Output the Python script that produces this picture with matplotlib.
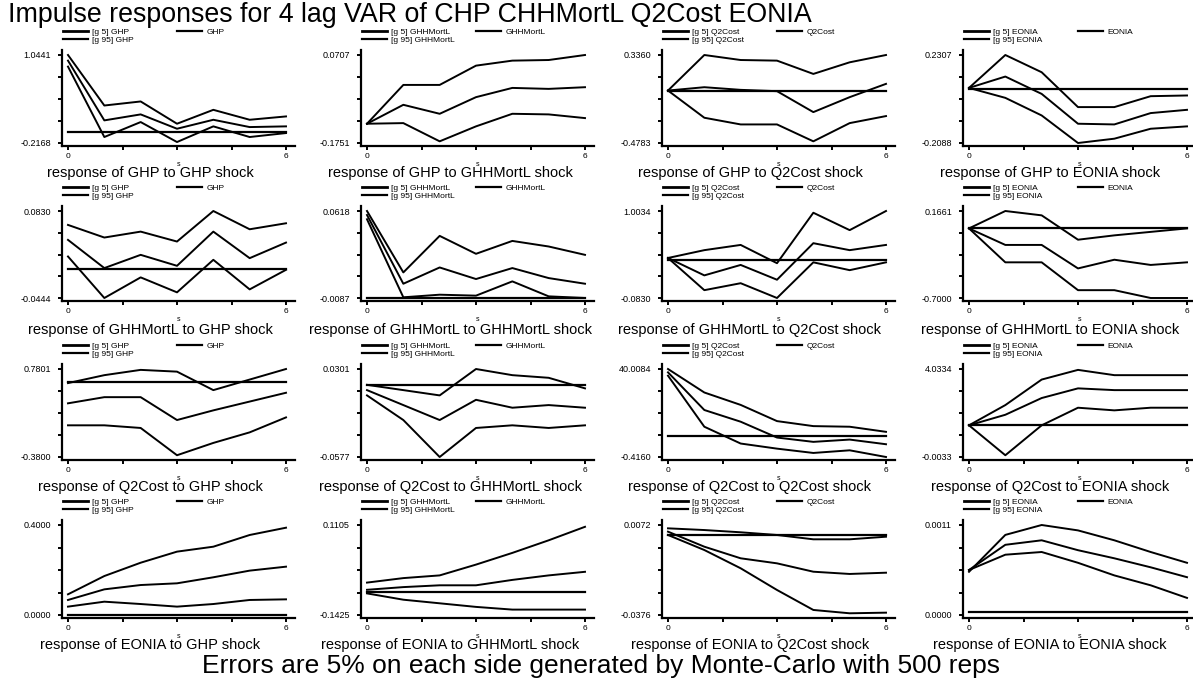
import matplotlib
matplotlib.use("Agg")
import matplotlib.pyplot as plt
from matplotlib.lines import Line2D

plt.rcParams['font.family'] = ['Liberation Sans', 'DejaVu Sans']

variables = ['GHP', 'GHHMortL', 'Q2Cost', 'EONIA']
steps = [0, 1, 2, 3, 4, 5, 6]
x_tick_labels = ['0', '', '', '', '6']

# values in percent of each panel's axis range (bottom label = 0, top label = 100)
# order: row = response variable, column = shock variable
upper = [
    [100, 42.6, 47.2, 21.9, 37.7, 26.4, 30.2],
    [21.9, 66.0, 66.0, 87.9, 93.6, 94.3, 100],
    [59.6, 100, 94.3, 93.6, 78.5, 91.7, 100],
    [62.6, 100, 80.4, 40.8, 40.8, 53.2, 54.0],
    [84.0, 69.5, 76.3, 64.9, 100, 79.0, 85.9],
    [100, 29.4, 71.4, 50.8, 65.6, 59.2, 49.6],
    [46, 55, 61, 40, 98, 78, 100],
    [80, 100, 95, 67, 72, 76, 80],
    [84, 93, 99, 97, 76, 88, 100],
    [82, 76, 70, 100, 93, 90, 78],
    [100, 73.3, 59.2, 40.8, 35.1, 34.4, 28.6],
    [36, 59, 88, 99, 93, 93, 93],
    [23, 43.3, 58.1, 70.4, 75.9, 88.9, 97.0],
    [36, 41, 44, 56, 69, 83, 98],
    [96.3, 94.4, 91.9, 88.9, 84.1, 84.1, 87.0],
    [48, 89, 100, 94, 83, 70, 58],
]
center = [
    [93.6, 25.7, 32.5, 16.2, 26.4, 18.1, 18.9],
    [21.9, 43.4, 33.2, 52.1, 62.6, 61.5, 63.4],
    [59.6, 63.4, 60.4, 58.9, 35.1, 52.1, 67.2],
    [62.6, 75.5, 55.8, 21.9, 21.1, 34.0, 37.7],
    [66.8, 34.4, 49.6, 37.0, 76.3, 45.8, 63.7],
    [95.4, 16.4, 35.1, 21.8, 34.4, 22.9, 16.4],
    [46, 26, 38, 21, 63, 55, 61],
    [80, 61, 61, 34, 44, 38, 41],
    [61, 68, 68, 42, 53, 63, 73],
    [76, 59, 42, 65, 56, 59, 56],
    [96.2, 53.4, 40.1, 22.1, 17.2, 19.8, 14.5],
    [36, 48, 67, 78, 76, 76, 76],
    [16.7, 28.5, 33.3, 35.2, 41.9, 49.3, 53.7],
    [28, 31, 33, 33, 39, 44, 48],
    [92.6, 75.9, 63.0, 57.4, 48.1, 45.6, 47.0],
    [50, 78, 83, 72, 63, 53, 42],
]
lower = [
    [86.8, 6.8, 23.8, 1.1, 18.9, 6.8, 11.3],
    [21.9, 22.6, 1.9, 18.9, 33.2, 32.5, 28.3],
    [59.6, 28.7, 21.1, 21.1, 1.9, 22.6, 30.6],
    [62.6, 51.3, 31.3, 0, 4.9, 16.2, 18.9],
    [47.7, 0, 23.7, 6.5, 43.9, 9.9, 32.4],
    [90.5, 0.8, 3.8, 2.7, 19.1, 1.9, 0],
    [46, 9, 17, 0, 41, 32, 41],
    [80, 41, 41, 9, 9, 0, 0],
    [36, 36, 33, 2, 16, 28, 45],
    [70, 42, 0, 33, 36, 33, 36],
    [92.4, 34.4, 15.3, 9.5, 4.6, 7.6, 0],
    [36, 2, 36, 56, 53, 56, 56],
    [9.3, 14.8, 12.2, 9.3, 12.2, 16.7, 17.4],
    [24, 17, 13, 9, 6, 6, 6],
    [88.9, 72.2, 51.9, 27.8, 5.6, 1.9, 2.6],
    [50, 67, 70, 58, 44, 33, 19],
]
zero_level = [12.5, None, 59.6, 61.5,
              33.2, 0, 44, 80,
              85, 82, 23.7, 36,
              0, 26, 88.9, 3]
y_max_labels = ['1.0441', '0.0707', '0.3360', '0.2307',
                '0.0830', '0.0618', '1.0034', '0.1661',
                '0.7801', '0.0301', '40.0084', '4.0334',
                '0.4000', '0.1105', '0.0072', '0.0011']
y_min_labels = ['-0.2168', '-0.1751', '-0.4783', '-0.2088',
                '-0.0444', '-0.0087', '-0.0830', '-0.7000',
                '-0.3800', '-0.0577', '-0.4160', '-0.0033',
                '0.0000', '-0.1425', '-0.0376', '0.0000']

W, H = 1193, 683
fig = plt.figure(figsize=(W / 100, H / 100), dpi=100)

col_left = [62, 361, 662, 963]
row_top = [55, 211, 369, 525]
row_bot = [143, 298, 457, 615]
col_center = [150, 450, 750, 1050]
title_y = [173, 330, 487, 645]

for r in range(4):
    for c in range(4):
        k = r * 4 + c
        L, T, B = col_left[c], row_top[r], row_bot[r]
        top_px, bot_px = T - 5, B + 3
        ax = fig.add_axes([L / W, 1 - bot_px / H, 233 / W, (bot_px - top_px) / H])
        uy = 100 / (B - T)
        ux = 6 / 218
        ax.set_ylim(-3 * uy, 100 + 5 * uy)
        ax.set_xlim(-6 * ux, 6 + 9 * ux)

        shock = variables[c]
        resp = variables[r]
        ax.plot(steps, lower[k], color='black', lw=1.4)
        ax.plot(steps, upper[k], color='black', lw=1.4)
        ax.plot(steps, center[k], color='black', lw=1.4)
        if zero_level[k] is not None:
            ax.axhline(zero_level[k], xmin=6 / 233, xmax=224 / 233, color='black', lw=1.6)

        for s in ['top', 'right']:
            ax.spines[s].set_visible(False)
        ax.spines['left'].set_linewidth(1.6)
        ax.spines['bottom'].set_linewidth(1.6)
        ax.set_yticks([0, 25, 50, 75, 100])
        ax.set_yticklabels([y_min_labels[k], '', '', '', y_max_labels[k]])
        ax.set_xticks([0, 1.5, 3, 4.5, 6])
        ax.set_xticklabels(x_tick_labels)
        ax.tick_params(axis='y', labelsize=6.5, length=3, width=1.4, pad=5)
        ax.tick_params(axis='x', labelsize=6, length=3, width=1.4, pad=2)
        ax.set_xlabel('s', fontsize=5, labelpad=1)

        h1 = [Line2D([], [], color='black', lw=2),
              Line2D([], [], color='black', lw=1.6)]
        leg1 = ax.legend(h1, ['[g 5] ' + shock, '[g 95] ' + shock],
                         loc='lower left', bbox_to_anchor=(1 / 233, 1 + 6 / 96),
                         frameon=False, fontsize=6, borderpad=0, borderaxespad=0,
                         handlelength=3.0, handletextpad=0.5, labelspacing=0.05)
        ax.add_artist(leg1)
        h2 = [Line2D([], [], color='black', lw=1.6)]
        ax.legend(h2, [shock], loc='lower left', bbox_to_anchor=(115 / 233, 1 + 14 / 96),
                  frameon=False, fontsize=6, borderpad=0, borderaxespad=0,
                  handlelength=3.0, handletextpad=0.5)

        fig.text(col_center[c] / W, 1 - title_y[r] / H,
                 'response of ' + resp + ' to ' + shock + ' shock',
                 ha='center', va='center', fontsize=10.5)

fig.text(8 / W, 1 - 15 / H, 'Impulse responses for 4 lag VAR of CHP CHHMortL Q2Cost EONIA',
         ha='left', va='center', fontsize=19.3)
fig.text(601 / W, 1 - 666 / H, 'Errors are 5% on each side generated by Monte-Carlo with 500 reps',
         ha='center', va='center', fontsize=19)

fig.savefig('out.png', dpi=100, facecolor='white')
